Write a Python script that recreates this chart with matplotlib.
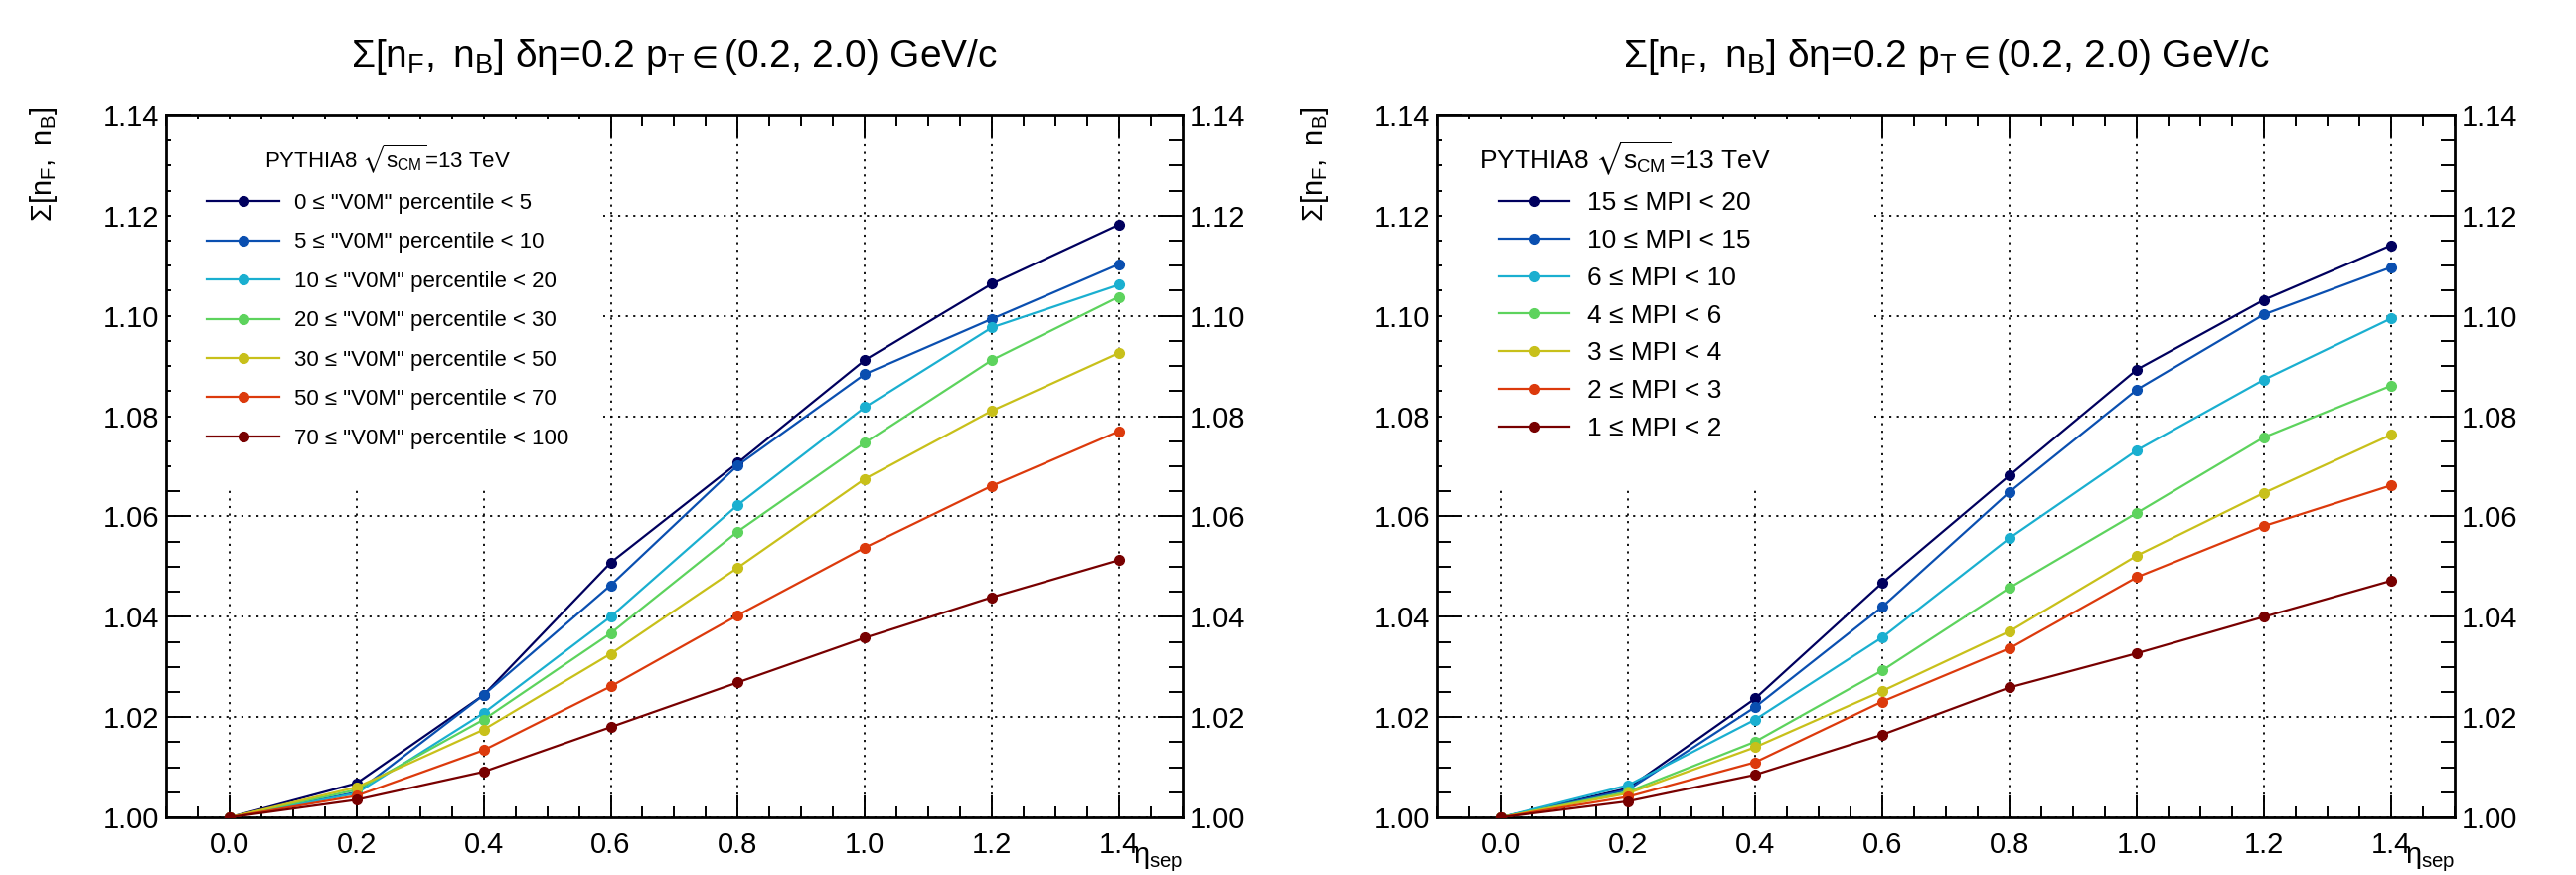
import matplotlib
matplotlib.use('Agg')
import matplotlib.pyplot as plt
from matplotlib.patches import Rectangle
from matplotlib.ticker import MultipleLocator, FormatStrFormatter

plt.rcParams['font.family'] = ['Liberation Sans', 'DejaVu Sans']
plt.rcParams['mathtext.fontset'] = 'custom'
plt.rcParams['mathtext.rm'] = 'Liberation Sans'
plt.rcParams['mathtext.it'] = 'Liberation Sans'
plt.rcParams['mathtext.bf'] = 'Liberation Sans:bold'
plt.rcParams['mathtext.fallback'] = 'stixsans'

# eta separation values
eta_sep = [0.0, 0.2, 0.4, 0.6, 0.8, 1.0, 1.2, 1.4]

# left panel: V0M percentile classes
v0m_labels = [
    '0 ≤ "V0M" percentile < 5',
    '5 ≤ "V0M" percentile < 10',
    '10 ≤ "V0M" percentile < 20',
    '20 ≤ "V0M" percentile < 30',
    '30 ≤ "V0M" percentile < 50',
    '50 ≤ "V0M" percentile < 70',
    '70 ≤ "V0M" percentile < 100',
]
v0m_0_5 = [1.0, 1.0068, 1.0244, 1.0508, 1.0707, 1.0912, 1.1064, 1.1182]
v0m_5_10 = [1.0, 1.0050, 1.0244, 1.0463, 1.0702, 1.0884, 1.0994, 1.1103]
v0m_10_20 = [1.0, 1.0048, 1.0208, 1.0400, 1.0623, 1.0818, 1.0977, 1.1062]
v0m_20_30 = [1.0, 1.0055, 1.0195, 1.0367, 1.0570, 1.0747, 1.0912, 1.1038]
v0m_30_50 = [1.0, 1.0060, 1.0175, 1.0326, 1.0498, 1.0675, 1.0811, 1.0926]
v0m_50_70 = [1.0, 1.0043, 1.0134, 1.0261, 1.0403, 1.0538, 1.0661, 1.0770]
v0m_70_100 = [1.0, 1.0035, 1.0091, 1.0180, 1.0269, 1.0358, 1.0439, 1.0513]

# right panel: MPI classes
mpi_labels = [
    '15 ≤ MPI < 20',
    '10 ≤ MPI < 15',
    '6 ≤ MPI < 10',
    '4 ≤ MPI < 6',
    '3 ≤ MPI < 4',
    '2 ≤ MPI < 3',
    '1 ≤ MPI < 2',
]
mpi_15_20 = [1.0, 1.0058, 1.0237, 1.0468, 1.0682, 1.0893, 1.1032, 1.1141]
mpi_10_15 = [1.0, 1.0055, 1.0220, 1.0420, 1.0649, 1.0853, 1.1003, 1.1097]
mpi_6_10 = [1.0, 1.0064, 1.0195, 1.0359, 1.0557, 1.0732, 1.0873, 1.0995]
mpi_4_6 = [1.0, 1.0051, 1.0151, 1.0293, 1.0458, 1.0607, 1.0758, 1.0861]
mpi_3_4 = [1.0, 1.0048, 1.0140, 1.0252, 1.0371, 1.0522, 1.0647, 1.0763]
mpi_2_3 = [1.0, 1.0041, 1.0110, 1.0231, 1.0337, 1.0479, 1.0581, 1.0662]
mpi_1_2 = [1.0, 1.0032, 1.0085, 1.0165, 1.0259, 1.0327, 1.0400, 1.0472]

colors = ['#00005e', '#0a4fb0', '#1aafd0', '#5dd35d', '#c8c01a', '#dc3a0c', '#780000']

title = r'$\Sigma[\mathrm{n}_{\mathrm{F}},\ \mathrm{n}_{\mathrm{B}}]$ $\delta\eta$=0.2 $\mathrm{p}_{\mathrm{T}}\in$(0.2, 2.0) GeV/c'
ylabel = r'$\Sigma[\mathrm{n}_{\mathrm{F}},\ \mathrm{n}_{\mathrm{B}}]$'
xlabel = r'$\eta_{\mathrm{sep}}$'
header = r'PYTHIA8 $\sqrt{\mathrm{s}_{\mathrm{CM}}}$=13 TeV'


def style_axes(ax):
    ax.set_xlim(-0.1, 1.5)
    ax.set_ylim(1.0, 1.14)
    ax.xaxis.set_major_locator(MultipleLocator(0.2))
    ax.xaxis.set_minor_locator(MultipleLocator(0.05))
    ax.yaxis.set_major_locator(MultipleLocator(0.02))
    ax.yaxis.set_minor_locator(MultipleLocator(0.005))
    ax.xaxis.set_major_formatter(FormatStrFormatter('%.1f'))
    ax.yaxis.set_major_formatter(FormatStrFormatter('%.2f'))
    ax.tick_params(which='both', direction='in', top=True, right=True,
                   labelright=True, width=1.4, labelsize=21, color='black')
    ax.tick_params(axis='x', which='major', length=16, pad=10)
    ax.tick_params(axis='x', which='minor', length=8)
    ax.tick_params(axis='y', which='major', length=18, pad=5)
    ax.tick_params(axis='y', which='minor', length=10)
    ax.set_axisbelow(True)
    ax.grid(True, which='major', color='black', linestyle=(0, (1.2, 3)), linewidth=1.3)
    for s in ax.spines.values():
        s.set_linewidth(2)
    ax.set_title(title, fontsize=28, pad=35)
    ax.text(-0.12, 1.012, ylabel, transform=ax.transAxes, rotation=90,
            ha='center', va='top', fontsize=21)
    ax.text(1.0, -0.04, xlabel, transform=ax.transAxes, ha='right', va='top', fontsize=21)


fig = plt.figure(figsize=(25.92, 8.8), dpi=100)
ax1 = fig.add_axes([0.0644, 0.0659, 0.3947, 0.8023])
ax2 = fig.add_axes([0.5579, 0.0659, 0.3951, 0.8023])

left_series = [v0m_0_5, v0m_5_10, v0m_10_20, v0m_20_30, v0m_30_50, v0m_50_70, v0m_70_100]
right_series = [mpi_15_20, mpi_10_15, mpi_6_10, mpi_4_6, mpi_3_4, mpi_2_3, mpi_1_2]

for ax, series, labels, fs, hl, lsp, anchor in [
        (ax1, left_series, v0m_labels, 16, 3.3, 0.83, (0.040, 0.962)),
        (ax2, right_series, mpi_labels, 19, 2.69, 0.52, (0.041, 0.965))]:
    style_axes(ax)
    handles = []
    for vals, col, lab in zip(series, colors, labels):
        h, = ax.plot(eta_sep, vals, color=col, lw=1.6, marker='o', ms=7,
                     label=lab, zorder=3)
        handles.append(h)
    ax.add_patch(Rectangle((0.005, 0.47), 0.425, 0.525, transform=ax.transAxes,
                           facecolor='white', edgecolor='none', zorder=1))
    ax.legend(handles=handles, loc='upper left', bbox_to_anchor=anchor,
              frameon=False, fontsize=fs, title=header, title_fontsize=fs,
              handlelength=hl, handletextpad=0.65, labelspacing=lsp,
              borderpad=0, borderaxespad=0, numpoints=1)

fig.savefig('out.png', dpi=100)
